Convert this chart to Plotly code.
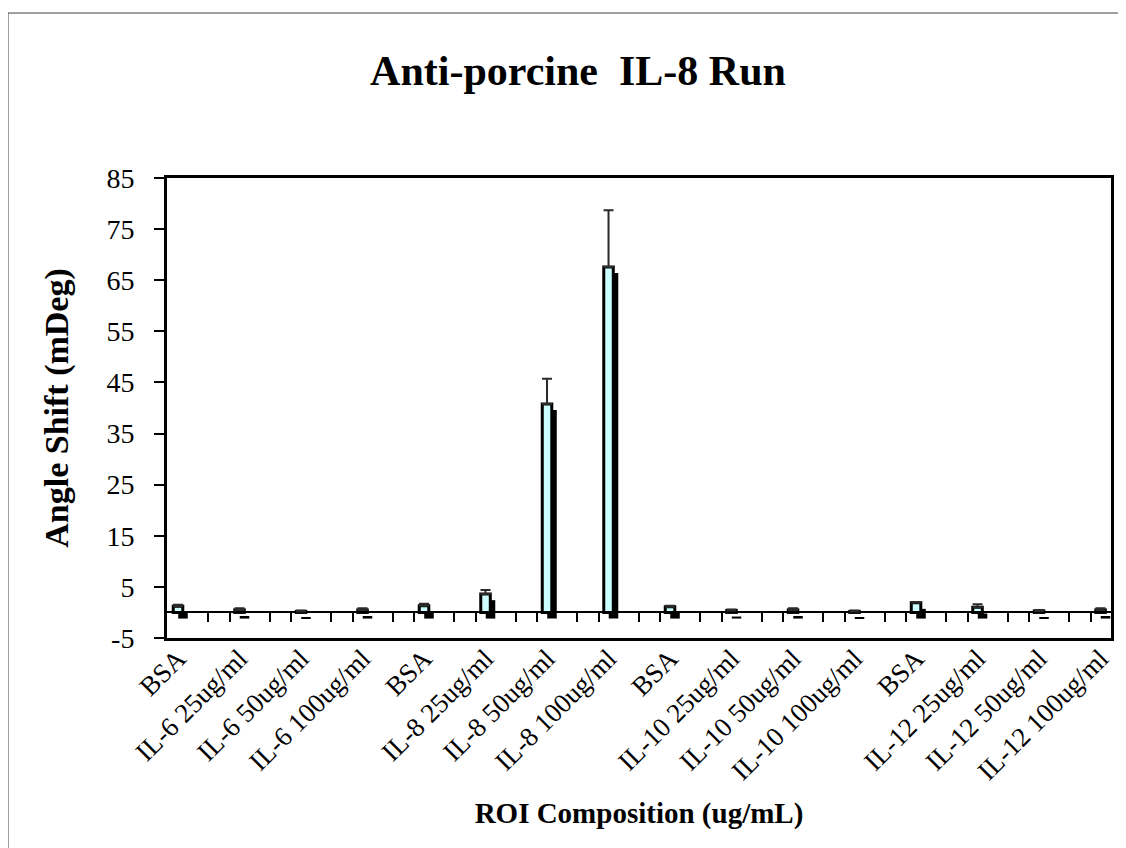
import plotly.graph_objects as go

categories = ["BSA", "IL-6 25ug/ml", "IL-6 50ug/ml", "IL-6 100ug/ml",
              "BSA", "IL-8 25ug/ml", "IL-8 50ug/ml", "IL-8 100ug/ml",
              "BSA", "IL-10 25ug/ml", "IL-10 50ug/ml", "IL-10 100ug/ml",
              "BSA", "IL-12 25ug/ml", "IL-12 50ug/ml", "IL-12 100ug/ml"]
angle_shift = [1.2, 0.5, 0.2, 0.5, 1.3, 3.6, 40.8, 67.6,
               1.1, 0.4, 0.5, 0.2, 1.9, 1.0, 0.3, 0.5]
error_up = [0.3, 0.3, 0.2, 0.3, 0.4, 0.8, 4.9, 11.1,
            0.2, 0.2, 0.3, 0.2, 0.1, 0.6, 0.2, 0.3]
y_tickvals = [-5, 5, 15, 25, 35, 45, 55, 65, 75, 85]
y_ticktext = ["-5", "5", "15", "25", "35", "45", "55", "65", "75", "85"]
positions = list(range(1, len(categories) + 1))
boundary_ticks = [i + 0.49 for i in range(0, 16)] + [i + 0.84 for i in range(1, 16)]

SERIF = "Liberation Serif, Times New Roman, serif"
BAR_W = 0.155
SHADOW_DX = 0.081
SHADOW_DY = 1.2

# figure is placed 8px in from the page corner (default body margin)
W, H = 1118, 840
L, T, PW, PH = 159, 170, 944, 460

fig = go.Figure()

# drop shadow (3-D effect)
fig.add_trace(go.Bar(
    x=positions, y=angle_shift, base=[-SHADOW_DY] * len(angle_shift),
    width=BAR_W, offset=-BAR_W / 2 + SHADOW_DX,
    marker=dict(color="#000000", line=dict(width=0)),
    hoverinfo="skip", showlegend=False,
))

# main bars
fig.add_trace(go.Bar(
    x=positions, y=angle_shift,
    width=BAR_W, offset=-BAR_W / 2,
    marker=dict(color="#CCFFFF", line=dict(color="#000000", width=3)),
    error_y=dict(type="data", array=error_up, arrayminus=[0] * len(error_up),
                 symmetric=False, color="#2a2a2a", thickness=2, width=5),
    showlegend=False,
))

# invisible carrier so the zero-line category tick axis is drawn
fig.add_trace(go.Scatter(
    x=positions, y=[0] * len(positions), xaxis="x2", yaxis="y",
    mode="markers", marker=dict(opacity=0, size=1),
    hoverinfo="skip", showlegend=False,
))

xr = [0.821, 16.17]

fig.update_layout(
    width=W, height=H,
    barmode="overlay",
    paper_bgcolor="white", plot_bgcolor="white",
    margin=dict(l=L, r=W - L - PW, t=T, b=H - T - PH, pad=0),
    font=dict(family=SERIF, color="black"),
    title=dict(text="<b>Anti-porcine  IL-8 Run</b>", x=570 / W, xref="container",
               y=1 - 62 / H, yref="container", xanchor="center", yanchor="middle",
               font=dict(family=SERIF, size=42, color="black")),
    xaxis=dict(
        range=xr, tickmode="array", tickvals=positions, ticktext=categories,
        tickangle=-45, ticks="", showgrid=False, zeroline=False,
        ticklabelstandoff=-9,
        showline=True, linecolor="black", linewidth=3, mirror=True,
        tickfont=dict(family=SERIF, size=27, color="black"),
        title=dict(text="<b>ROI Composition (ug/mL)</b>", standoff=18,
                   font=dict(family=SERIF, size=29, color="black")),
    ),
    xaxis2=dict(
        range=xr, overlaying="x", anchor="free", position=5 / 90, side="bottom",
        tickmode="array", tickvals=boundary_ticks, ticks="outside", ticklen=9,
        tickwidth=1.5, tickcolor="black", showticklabels=False,
        showgrid=False, zeroline=False, showline=False,
    ),
    yaxis=dict(
        range=[-5, 85], tickmode="array", tickvals=y_tickvals, ticktext=y_ticktext,
        ticks="outside", ticklen=10, tickwidth=1.5, tickcolor="black",
        ticklabelstandoff=14,
        showgrid=False, zeroline=True, zerolinecolor="black", zerolinewidth=1.5,
        showline=True, linecolor="black", linewidth=3, mirror=True,
        tickfont=dict(family=SERIF, size=28, color="black"),
        title=dict(text="<b>Angle Shift (mDeg)</b>", standoff=28,
                   font=dict(family=SERIF, size=34, color="black")),
    ),
    shapes=[dict(type="rect", xref="paper", yref="paper",
                 x0=(0 - L) / PW, x1=(W + 30 - L) / PW,
                 y0=(PH + T - (H + 30)) / PH, y1=(PH + T - 5) / PH,
                 line=dict(color="#404040", width=1), fillcolor="rgba(0,0,0,0)",
                 layer="below")],
)

fig.write_html("out.html")
